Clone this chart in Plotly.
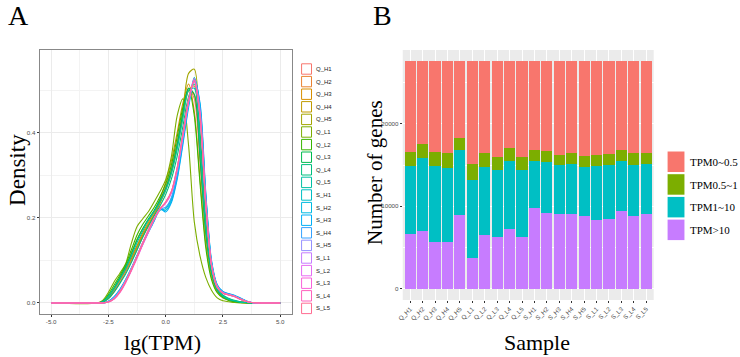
import plotly.graph_objects as go

# ---------------- Data ----------------
samples = ["Q_H1", "Q_H2", "Q_H3", "Q_H4", "Q_H5", "Q_L1", "Q_L2", "Q_L3", "Q_L4", "Q_L5",
           "S_H1", "S_H2", "S_H3", "S_H4", "S_H5", "S_L1", "S_L2", "S_L3", "S_L4", "S_L5"]
sample_colors = ["#F8766D", "#EA8331", "#D89000", "#C09B00", "#A3A500", "#7CAE00", "#39B600",
                 "#00BB4E", "#00BF7D", "#00C1A3", "#00BFC4", "#00BAE0", "#00B0F6", "#35A2FF",
                 "#9590FF", "#C77CFF", "#E76BF3", "#FA62DB", "#FF62BC", "#FF6C91"]

# density curves (lg(TPM) grid and density)
lg_tpm = [-5, -3, -2.75, -2.5, -2.25, -2, -1.75, -1.5, -1.25, -1, -0.75, -0.5, -0.25, 0, 0.25,
          0.5, 0.75, 1, 1.25, 1.5, 1.75, 2, 2.25, 2.5, 2.75, 3, 3.25, 3.5, 3.75, 5]
dens_Q_H1 = [0, 0, 0.002, 0.012, 0.030, 0.052, 0.075, 0.100, 0.130, 0.160, 0.185, 0.210, 0.240, 0.275, 0.320, 0.380, 0.450, 0.505, 0.480, 0.330, 0.160, 0.070, 0.030, 0.015, 0.008, 0.004, 0.002, 0.001, 0, 0]
dens_Q_H2 = [0, 0, 0.001, 0.010, 0.026, 0.048, 0.072, 0.098, 0.125, 0.155, 0.180, 0.205, 0.235, 0.265, 0.305, 0.365, 0.435, 0.500, 0.510, 0.370, 0.180, 0.075, 0.032, 0.016, 0.009, 0.005, 0.002, 0.001, 0, 0]
dens_Q_H3 = [0, 0, 0.003, 0.015, 0.035, 0.058, 0.082, 0.108, 0.135, 0.165, 0.190, 0.215, 0.245, 0.285, 0.335, 0.400, 0.470, 0.515, 0.450, 0.290, 0.140, 0.060, 0.026, 0.013, 0.007, 0.003, 0.001, 0, 0, 0]
dens_Q_H4 = [0, 0, 0.002, 0.013, 0.032, 0.055, 0.078, 0.104, 0.132, 0.160, 0.185, 0.208, 0.235, 0.268, 0.312, 0.372, 0.445, 0.500, 0.490, 0.345, 0.170, 0.072, 0.031, 0.015, 0.008, 0.004, 0.002, 0.001, 0, 0]
dens_Q_H5 = [0, 0, 0.003, 0.015, 0.035, 0.060, 0.085, 0.118, 0.150, 0.175, 0.195, 0.215, 0.240, 0.270, 0.310, 0.370, 0.450, 0.540, 0.550, 0.390, 0.190, 0.075, 0.030, 0.015, 0.008, 0.004, 0.002, 0.001, 0, 0]
dens_Q_L1 = [0, 0, 0.006, 0.025, 0.050, 0.070, 0.092, 0.140, 0.180, 0.198, 0.215, 0.238, 0.262, 0.290, 0.345, 0.440, 0.480, 0.370, 0.190, 0.110, 0.060, 0.030, 0.012, 0.005, 0.003, 0.001, 0, 0, 0, 0]
dens_Q_L2 = [0, 0, 0.004, 0.020, 0.042, 0.065, 0.090, 0.125, 0.160, 0.185, 0.205, 0.225, 0.250, 0.280, 0.325, 0.390, 0.460, 0.505, 0.440, 0.280, 0.130, 0.055, 0.024, 0.012, 0.006, 0.003, 0.001, 0, 0, 0]
dens_Q_L3 = [0, 0, 0.003, 0.016, 0.036, 0.060, 0.085, 0.115, 0.148, 0.175, 0.198, 0.218, 0.242, 0.270, 0.312, 0.372, 0.445, 0.505, 0.490, 0.340, 0.165, 0.070, 0.030, 0.015, 0.008, 0.004, 0.002, 0.001, 0, 0]
dens_Q_L4 = [0, 0, 0.002, 0.010, 0.026, 0.046, 0.068, 0.095, 0.125, 0.155, 0.182, 0.205, 0.228, 0.255, 0.292, 0.345, 0.415, 0.485, 0.515, 0.400, 0.205, 0.085, 0.036, 0.018, 0.011, 0.006, 0.003, 0.001, 0, 0]
dens_Q_L5 = [0, 0, 0.003, 0.015, 0.034, 0.056, 0.080, 0.110, 0.142, 0.170, 0.195, 0.215, 0.238, 0.265, 0.305, 0.362, 0.435, 0.500, 0.505, 0.365, 0.180, 0.075, 0.032, 0.016, 0.009, 0.005, 0.002, 0.001, 0, 0]
dens_S_H1 = [0, 0, 0, 0.004, 0.015, 0.032, 0.055, 0.082, 0.112, 0.142, 0.170, 0.195, 0.218, 0.222, 0.245, 0.300, 0.385, 0.470, 0.530, 0.460, 0.250, 0.095, 0.040, 0.025, 0.020, 0.016, 0.010, 0.004, 0.001, 0]
dens_S_H2 = [0, 0, 0, 0.003, 0.013, 0.030, 0.053, 0.080, 0.110, 0.140, 0.168, 0.195, 0.220, 0.218, 0.240, 0.295, 0.378, 0.465, 0.528, 0.465, 0.255, 0.098, 0.042, 0.026, 0.021, 0.017, 0.011, 0.005, 0.001, 0]
dens_S_H3 = [0, 0, 0, 0.003, 0.012, 0.028, 0.050, 0.078, 0.108, 0.138, 0.166, 0.193, 0.222, 0.214, 0.236, 0.290, 0.372, 0.460, 0.525, 0.470, 0.260, 0.100, 0.043, 0.027, 0.022, 0.018, 0.012, 0.005, 0.001, 0]
dens_S_H4 = [0, 0, 0, 0.004, 0.014, 0.031, 0.054, 0.081, 0.111, 0.141, 0.169, 0.195, 0.220, 0.225, 0.248, 0.302, 0.385, 0.470, 0.525, 0.455, 0.245, 0.093, 0.040, 0.025, 0.020, 0.016, 0.010, 0.004, 0.001, 0]
dens_S_H5 = [0, 0, 0, 0.003, 0.012, 0.028, 0.052, 0.080, 0.110, 0.142, 0.172, 0.200, 0.222, 0.235, 0.258, 0.312, 0.392, 0.472, 0.522, 0.445, 0.235, 0.090, 0.038, 0.024, 0.019, 0.015, 0.009, 0.004, 0.001, 0]
dens_S_L1 = [0, 0, 0, 0.002, 0.010, 0.026, 0.050, 0.078, 0.108, 0.140, 0.170, 0.198, 0.220, 0.236, 0.262, 0.318, 0.398, 0.478, 0.520, 0.435, 0.228, 0.088, 0.037, 0.023, 0.019, 0.015, 0.009, 0.004, 0.001, 0]
dens_S_L2 = [0, 0, 0, 0.002, 0.010, 0.027, 0.051, 0.079, 0.110, 0.142, 0.172, 0.199, 0.221, 0.237, 0.262, 0.316, 0.395, 0.476, 0.522, 0.440, 0.232, 0.089, 0.037, 0.023, 0.019, 0.015, 0.009, 0.004, 0.001, 0]
dens_S_L3 = [0, 0, 0, 0.002, 0.009, 0.024, 0.047, 0.075, 0.105, 0.137, 0.167, 0.196, 0.220, 0.236, 0.260, 0.312, 0.390, 0.472, 0.528, 0.450, 0.240, 0.092, 0.039, 0.024, 0.020, 0.016, 0.010, 0.004, 0.001, 0]
dens_S_L4 = [0, 0, 0, 0.002, 0.010, 0.026, 0.049, 0.077, 0.108, 0.140, 0.170, 0.198, 0.221, 0.236, 0.261, 0.316, 0.396, 0.476, 0.524, 0.442, 0.235, 0.090, 0.038, 0.023, 0.019, 0.015, 0.009, 0.004, 0.001, 0]
dens_S_L5 = [0, 0, 0, 0.002, 0.010, 0.026, 0.050, 0.078, 0.109, 0.141, 0.171, 0.199, 0.222, 0.238, 0.263, 0.318, 0.398, 0.478, 0.522, 0.438, 0.230, 0.088, 0.037, 0.023, 0.019, 0.015, 0.009, 0.004, 0.001, 0]
densities = [dens_Q_H1, dens_Q_H2, dens_Q_H3, dens_Q_H4, dens_Q_H5, dens_Q_L1, dens_Q_L2, dens_Q_L3,
             dens_Q_L4, dens_Q_L5, dens_S_H1, dens_S_H2, dens_S_H3, dens_S_H4, dens_S_H5, dens_S_L1,
             dens_S_L2, dens_S_L3, dens_S_L4, dens_S_L5]

# gene counts per expression class (stacked bars)
tpm_gt10 = [6600, 7000, 5670, 5630, 8930, 3780, 6560, 6280, 7280, 6280,
            9780, 9220, 9010, 9100, 8810, 8370, 8490, 9460, 8850, 9010]
tpm_1_10 = [8290, 8820, 9180, 9060, 7930, 9460, 8170, 8130, 8170, 8130,
            5750, 6150, 6000, 6070, 6000, 6480, 6520, 5990, 6200, 6120]
tpm_05_1 = [1690, 1770, 1770, 1770, 1490, 1930, 1690, 1530, 1570, 1530,
            1330, 1290, 1250, 1290, 1290, 1330, 1330, 1370, 1370, 1370]
tpm_0_05 = [11020, 10010, 10980, 11140, 9250, 12430, 11180, 11660, 10580, 11660,
            10740, 10940, 11340, 11140, 11500, 11420, 11260, 10780, 11180, 11100]
class_names = ["TPM0~0.5", "TPM0.5~1", "TPM1~10", "TPM>10"]
class_colors = ["#F8766D", "#7CAE00", "#00BFC4", "#C77CFF"]

# ---------------- Figure ----------------
W, H = 740, 357
def px(x): return x / W
def py(y): return 1 - y / H

fig = go.Figure()

for name, col, d in zip(samples, sample_colors, densities):
    fig.add_trace(go.Scatter(x=lg_tpm, y=d, mode="lines", name=name,
                             line=dict(color=col, width=1.1, shape="spline", smoothing=0.8),
                             xaxis="x", yaxis="y", showlegend=False))

bar_series = [tpm_gt10, tpm_1_10, tpm_05_1, tpm_0_05]
bar_cols = class_colors[::-1]
bar_names = class_names[::-1]
for vals, col, name in zip(bar_series, bar_cols, bar_names):
    fig.add_trace(go.Bar(x=samples, y=vals, name=name, marker=dict(color=col, line=dict(width=0)),
                         width=0.9, xaxis="x2", yaxis="y2", showlegend=False))

tickfont = dict(family="Liberation Sans", size=6.2, color="#4D4D4D")
serif = "Liberation Serif"

fig.update_layout(
    width=W, height=H, margin=dict(l=0, r=0, t=0, b=0),
    paper_bgcolor="white", plot_bgcolor="white", barmode="stack", bargap=0.1,
    xaxis=dict(domain=[px(34), px(288)], range=[-5.5, 5.5], tickvals=[-5, -2.5, 0, 2.5, 5],
               ticktext=["-5.0", "-2.5", "0.0", "2.5", "5.0"], ticks="outside", ticklen=2,
               tickcolor="#333333", tickfont=tickfont, showgrid=True, gridcolor="#EBEBEB",
               gridwidth=0.8, zeroline=False, showline=True, mirror=True, linecolor="#888888",
               linewidth=1, minor=dict(showgrid=True, dtick=1.25, tick0=0, gridcolor="#F3F3F3", gridwidth=0.5),
               anchor="y"),
    yaxis=dict(domain=[py(314), py(50)], range=[-0.026, 0.595], tickvals=[0, 0.2, 0.4],
               ticktext=["0.0", "0.2", "0.4"], ticks="outside", ticklen=2, tickcolor="#333333",
               tickfont=tickfont, showgrid=True, gridcolor="#EBEBEB", gridwidth=0.8, zeroline=False,
               showline=True, mirror=True, linecolor="#888888", linewidth=1,
               minor=dict(showgrid=True, dtick=0.1, tick0=0, gridcolor="#F3F3F3", gridwidth=0.5),
               anchor="x"),
    xaxis2=dict(domain=[px(400), px(653)], range=[-0.6, 19.6], type="category", ticks="outside",
                ticklen=2, tickcolor="#333333", tickfont=tickfont, tickangle=-45, showgrid=True,
                gridcolor="white", gridwidth=0.8, zeroline=False, showline=False, anchor="y2"),
    yaxis2=dict(domain=[py(300), py(50)], range=[-1380, 28980], tickvals=[0, 10000, 20000],
                ticktext=["0", "10000", "20000"], ticks="outside", ticklen=2, tickcolor="#333333",
                tickfont=tickfont, showgrid=True, gridcolor="white", gridwidth=1, zeroline=False,
                showline=False, minor=dict(showgrid=True, dtick=5000, tick0=0, gridcolor="white",
                                           gridwidth=0.5), anchor="x2"),
)

shapes = [dict(type="rect", xref="x2 domain", yref="y2 domain", x0=0, x1=1, y0=0, y1=1,
               fillcolor="#EBEBEB", line=dict(width=0), layer="below")]
annotations = []

# legend A (outlined keys)
for i, (name, col) in enumerate(zip(samples, sample_colors)):
    top = 63 + i * 12.6
    shapes.append(dict(type="rect", xref="paper", yref="paper", x0=px(298), x1=px(308),
                       y0=py(top + 11.2), y1=py(top + 0.8), fillcolor="white",
                       line=dict(color=col, width=1)))
    annotations.append(dict(x=px(311), y=py(top + 6), xref="paper", yref="paper", text=name,
                            showarrow=False, xanchor="left", yanchor="middle",
                            font=dict(family="Liberation Sans", size=6, color="#222222")))

# legend B (filled keys)
for i, (name, col) in enumerate(zip(class_names, class_colors)):
    top = 151.5 + i * 22.7
    shapes.append(dict(type="rect", xref="paper", yref="paper", x0=px(667), x1=px(684),
                       y0=py(top + 20.5), y1=py(top), fillcolor=col, line=dict(width=0)))
    annotations.append(dict(x=px(688), y=py(top + 10.5), xref="paper", yref="paper", text=name,
                            showarrow=False, xanchor="left", yanchor="middle",
                            font=dict(family=serif, size=11, color="black")))

# titles and panel labels
def label(text, x, y, size, angle=0):
    annotations.append(dict(x=px(x), y=py(y), xref="paper", yref="paper", text=text,
                            showarrow=False, xanchor="center", yanchor="middle", textangle=angle,
                            font=dict(family=serif, size=size, color="black")))

label("A", 13, 16, 28)
label("B", 380, 16, 28)
label("Density", 11, 170, 23, -90)
label("lg(TPM)", 158, 342, 22)
label("Number of genes", 372, 172, 21, -90)
label("Sample", 535, 342, 22)

fig.update_layout(shapes=shapes, annotations=annotations)
fig.write_html("out.html", config={"displayModeBar": False},
               post_script="document.body.style.margin='0';document.body.style.overflow='hidden';")
